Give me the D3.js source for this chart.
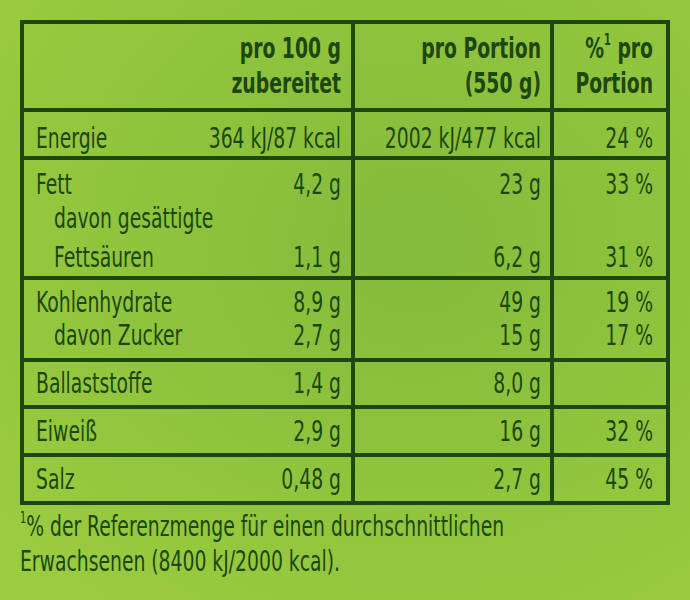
<!DOCTYPE html><html><head><meta charset="utf-8">
<script src="https://cdn.jsdelivr.net/npm/d3@7"></script>
<style>body{margin:0}svg{display:block}</style></head><body>
<script>
const headers=[["pro 100 g","zubereitet"],["pro Portion","(550 g)"],["%¹ pro","Portion"]];
const labels=["Energie","Fett","davon gesättigte|Fettsäuren","Kohlenhydrate","davon Zucker","Ballaststoffe","Eiweiß","Salz"];
const per100=["364 kJ/87 kcal","4,2 g","1,1 g","8,9 g","2,7 g","1,4 g","2,9 g","0,48 g"];
const perPortion=["2002 kJ/477 kcal","23 g","6,2 g","49 g","15 g","8,0 g","16 g","2,7 g"];
const pct=["24 %","33 %","31 %","19 %","17 %","","32 %","45 %"];
const footnote=["¹% der Referenzmenge für einen durchschnittlichen","Erwachsenen (8400 kJ/2000 kcal)."];

const W=690,H=600,ink="#1c4710",SX=0.72;
const svg=d3.select("body").append("svg").attr("width",W).attr("height",H);
const g=svg.append("defs").append("radialGradient").attr("id","bg").attr("cx","60%").attr("cy","40%").attr("r","80%");
g.append("stop").attr("offset","0").attr("stop-color","#84bb3b");
g.append("stop").attr("offset","1").attr("stop-color","#9ccc3f");
svg.append("rect").attr("width",W).attr("height",H).attr("fill","url(#bg)");
const font="'DejaVu Sans Condensed','DejaVu Sans',sans-serif";
const x=d3.scaleOrdinal().domain(["l","c1","c2","c3"]).range([36,341,541,653]);
const base=[148,194,228,312,345,393,441,489];
const groupBottoms=[110,158,278,360,407,455,503];
const L=22,R=668,T=22;
const lines=svg.append("g").attr("stroke",ink).attr("stroke-width",4);
lines.append("rect").attr("x",L).attr("y",T).attr("width",R-L).attr("height",groupBottoms[6]-T).attr("fill","none");
groupBottoms.slice(0,6).forEach(y=>lines.append("line").attr("x1",L).attr("x2",R).attr("y1",y).attr("y2",y));
[353,552].forEach(v=>lines.append("line").attr("x1",v).attr("x2",v).attr("y1",T).attr("y2",groupBottoms[6]));
const t=svg.append("g").attr("fill",ink).attr("font-family",font).attr("font-size",29);
function txt(px,py,anchor){return t.append("text").attr("transform",`translate(${px},${py}) scale(${SX},1)`).attr("text-anchor",anchor||"start");}
function sup(el,rest,pre){ if(pre) el.append("tspan").text(pre);
 el.append("tspan").attr("font-size",15).attr("dy",-13).text("1");el.append("tspan").attr("dy",13).text(rest);}
headers.forEach((h,i)=>h.forEach((s,j)=>{
 const el=txt(x(["c1","c2","c3"][i]),58+j*35,"end").attr("font-weight","bold");
 if(s.startsWith("%¹")) sup(el," pro","%"); else el.text(s);
}));
labels.forEach((lab,i)=>{
 const parts=lab.split("|"),indent=lab.startsWith("davon")?18:0;
 parts.forEach((p,j)=>txt(x("l")+indent,base[i]+j*39).text(p));
 const yv=base[i]+(parts.length-1)*39;
 [[per100,"c1"],[perPortion,"c2"],[pct,"c3"]].forEach(([arr,c])=>txt(x(c),yv,"end").text(arr[i]));
});
footnote.forEach((f,j)=>{
 const el=txt(20,536+j*35);
 if(j===0) sup(el,f.slice(1)); else el.text(f);
});
</script></body></html>
